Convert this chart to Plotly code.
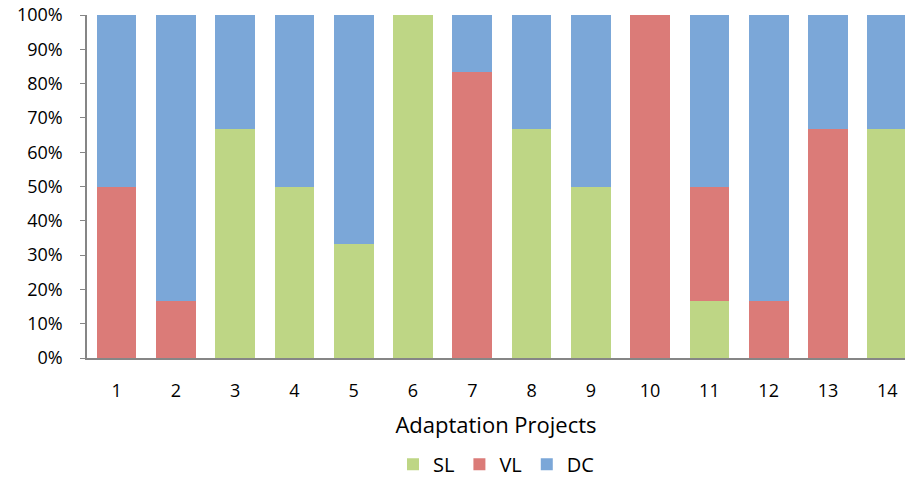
import plotly.graph_objects as go

projects = list(range(1, 15))
tick_text = [str(p) for p in projects]

# Share of each category per project (%)
sl = [0, 0, 66.7, 50, 33.3, 100, 0, 66.7, 50, 0, 16.7, 0, 0, 66.7]
vl = [50, 16.7, 0, 0, 0, 0, 83.3, 0, 0, 100, 33.3, 16.7, 66.7, 0]
dc = [50, 83.3, 33.3, 50, 66.7, 0, 16.7, 33.3, 50, 0, 50, 83.3, 33.3, 33.3]

series = [("SL", sl, "#BED685"), ("VL", vl, "#DB7B78"), ("DC", dc, "#7BA7D8")]

font_family = "'Open Sans', Lato, sans-serif"

fig = go.Figure()
for name, vals, color in series:
    fig.add_trace(go.Bar(
        x=projects, y=vals, name=name,
        marker=dict(color=color, line=dict(width=0)),
        width=0.67,
    ))

fig.update_layout(
    barmode="stack",
    width=905, height=478,
    margin=dict(l=87, r=0, t=15, b=120, autoexpand=False),
    plot_bgcolor="white", paper_bgcolor="white",
    font=dict(family=font_family, size=18, color="#000000"),
    showlegend=True,
    legend=dict(orientation="h", x=0.5, xanchor="center", y=-0.31, yanchor="middle",
                font=dict(size=20), traceorder="normal",
                itemwidth=30, itemsizing="constant"),
    xaxis=dict(
        range=[0.5, 14.3], tickmode="array", tickvals=projects, ticktext=tick_text,
        showline=True, linecolor="#868686", linewidth=1.5,
        ticks="outside", ticklen=16, tickcolor="rgba(0,0,0,0)",
        showgrid=False, zeroline=False, automargin=False,
        title=dict(text="Adaptation Projects", font=dict(size=22), standoff=16),
    ),
    yaxis=dict(
        range=[0, 100], tickvals=list(range(0, 101, 10)),
        ticktext=[f"{v}%" for v in range(0, 101, 10)],
        showline=True, linecolor="#868686", linewidth=1.5,
        ticks="outside", ticklen=5, tickcolor="#868686",
        ticklabelstandoff=14, automargin=False,
        showgrid=False, zeroline=False,
    ),
)

fig.write_html("out.html")
